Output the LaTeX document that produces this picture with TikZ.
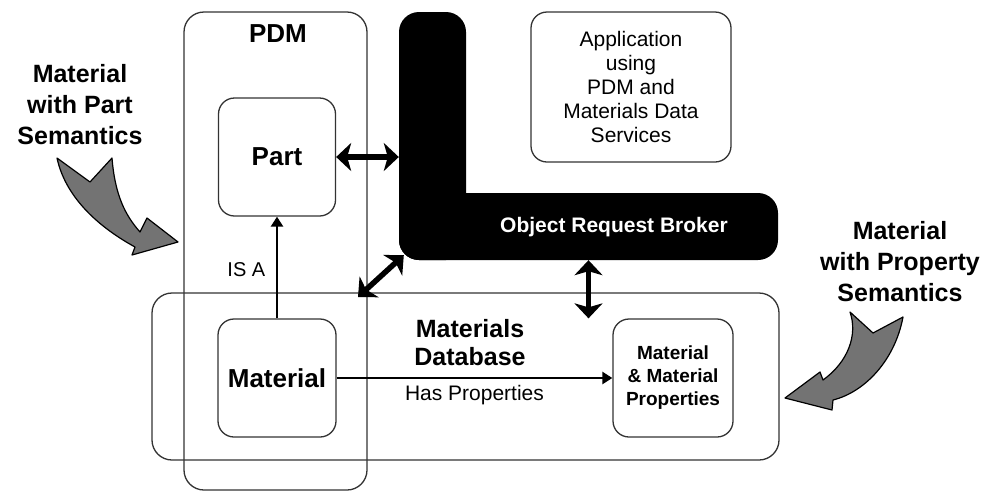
\documentclass[tikz,border=0pt]{standalone}
\usepackage{fontspec}
\setmainfont{Liberation Sans}
\usetikzlibrary{arrows.meta, positioning}

\begin{document}
\begin{tikzpicture}[x=1pt, y=-1pt,
        box/.style={draw=black!80, line width=1.3pt, rounded corners=20pt, inner sep=0pt},
        item/.style={box, rounded corners=16pt},
        orbpart/.style={fill=black, rounded corners=20pt, inner sep=0pt},
        big/.style={font=\bfseries\fontsize{25}{31}\selectfont, align=center},
        plain/.style={font=\fontsize{21}{24}\selectfont, align=center},
        link/.style={-{Triangle[length=10pt, width=12pt]}, line width=2.8pt},
        dbl/.style={{Stealth[length=15pt, width=28pt, inset=4pt]}-{Stealth[length=15pt, width=28pt, inset=4pt]}, line width=5.5pt},
        shade/.style={fill=black!55, draw=black, line width=1.2pt, line join=round}]
        \useasboundingbox (0,0) rectangle (988,491);

        \node (pdm) [box, minimum width=183pt, minimum height=478pt] at (275.5,251) {};
        \node (pdmtext) [big, font=\bfseries\fontsize{26}{31}\selectfont] at (278,34) {PDM};
        \node (matdb) [box, minimum width=627pt, minimum height=167pt] at (465.5,376.5) {};
        \node (dbtext) [big, font=\bfseries\fontsize{25}{28}\selectfont] at (470,343) {Materials\\Database};

        \node (part) [item, minimum width=117pt, minimum height=118pt, font=\bfseries\fontsize{26}{31}\selectfont] at (277,157) {Part};
        \node (mat) [item, minimum width=118pt, minimum height=118pt, font=\bfseries\fontsize{26}{31}\selectfont] at (277,378) {Material};
        \node (mmp) [item, minimum width=120pt, minimum height=118pt, align=center, font=\bfseries\fontsize{19}{23}\selectfont] at (673,378) {Material\\\& Material\\Properties};
        \node (app) [item, minimum width=200pt, minimum height=150pt, plain] at (631,87) {Application\\using\\PDM and\\Materials Data\\Services};

        \node (orbv) [orbpart, minimum width=67pt, minimum height=248pt] at (432.5,136) {};
        \node (orbh) [orbpart, minimum width=379pt, minimum height=67pt] at (588.5,226.5) {};
        \node (orb) [text=white, font=\bfseries\fontsize{21}{24}\selectfont] at (614,227) {Object Request Broker};

        \node (left) [big] at (80,105) {Material\\with Part\\Semantics};
        \node (right) [big] at (900,262) {Material\\with Property\\Semantics};

        \coordinate (dbcorner) at (358,297);

        \path [link]
            (mat) edge node[pos=0.48, left=7pt, font=\fontsize{20}{24}\selectfont] {IS A} (part)
            (mat) edge node[below=3pt, font=\fontsize{21}{24}\selectfont] {Has Properties} (mmp);

        \path [dbl]
            (part.east) edge (part.east -| orbv.west)
            (dbcorner) edge ([shift={(5,-5)}]orbv.south west)
            (orbh.south) edge (orbh.south |- mmp.north);

        \filldraw [shade] (57,158) -- (90,182) -- (112,158)
            .. controls (115,195) and (125,215) .. (140,232) -- (147,218) -- (178,242)
            -- (132,255) -- (135,247) .. controls (95,225) and (65,195) .. cycle;
        \filldraw [shade] (850,312) -- (873,333) -- (903,317)
            .. controls (895,360) and (865,392) .. (833,400) -- (832,410) -- (785,398)
            -- (820,372) -- (823,380) .. controls (848,362) and (858,335) .. cycle;
    \end{tikzpicture}
\end{document}
